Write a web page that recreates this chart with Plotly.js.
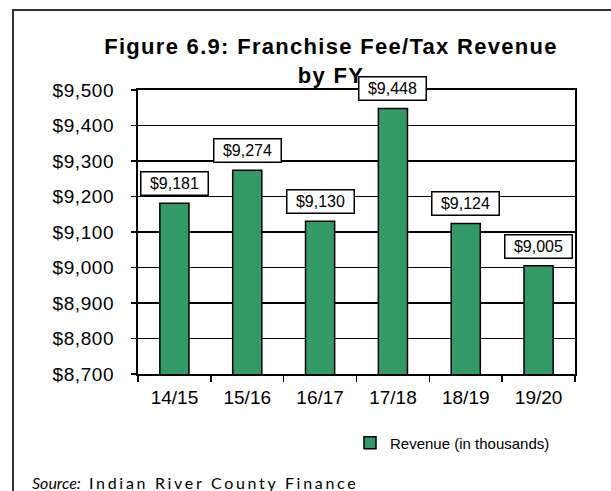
<!DOCTYPE html>
<html>
<head>
<meta charset="utf-8">
<script src="https://cdn.plot.ly/plotly-3.0.1.min.js"></script>
<style>
  html, body { margin: 0; padding: 0; background: #fff; }
  #wrap { position: relative; width: 611px; height: 491px; overflow: hidden; }
  #chart { position: absolute; left: 0; top: 0; width: 611px; height: 491px; }
  #frame { position: absolute; left: 12px; top: 9px; width: 620px; height: 500px;
           border-top: 2px solid #333; border-left: 2px solid #333; pointer-events: none; }
  .gtitle { letter-spacing: 1.3px; }
  .ytick text { letter-spacing: 0.6px; }
</style>
</head>
<body>
<div id="wrap">
  <div id="chart"></div>
  <div id="frame"></div>
</div>
<script>
// Data
const fiscalYears = ["14/15", "15/16", "16/17", "17/18", "18/19", "19/20"];
const revenue = [9181, 9274, 9130, 9448, 9124, 9005];
const revenueLabels = ["$9,181", "$9,274", "$9,130", "$9,448", "$9,124", "$9,005"];
const seriesName = "Revenue (in thousands)";
const chartTitle = "Figure 6.9: Franchise Fee/Tax Revenue<br>by FY";
const sourceNote = "<i>Source:</i>&nbsp;&nbsp;<span style=\"letter-spacing:2.7px\">Indian River County Finance</span>";

const FONT = "Liberation Sans, Arial, sans-serif";

const trace = {
  type: "bar",
  x: fiscalYears,
  y: revenue,
  name: seriesName,
  showlegend: true,
  marker: { color: "#339966", line: { color: "#000000", width: 1.5 } },
  hoverinfo: "x+y"
};

const labelAnnotations = fiscalYears.map((fy, i) => ({
  x: fy,
  y: revenue[i],
  xref: "x",
  yref: "y",
  text: revenueLabels[i],
  showarrow: false,
  yanchor: "bottom",
  yshift: 7,
  font: { family: FONT, size: 16, color: "#000" },
  bgcolor: "#ffffff",
  bordercolor: "#000000",
  borderwidth: 1.5,
  borderpad: 2,
  width: 62,
  height: 18
}));

const layout = {
  width: 611,
  height: 491,
  margin: { l: 138, r: 36, t: 90, b: 117 },
  paper_bgcolor: "#ffffff",
  plot_bgcolor: "#ffffff",
  font: { family: FONT, color: "#000" },
  title: {
    text: chartTitle,
    font: { family: FONT, size: 22, color: "#000", weight: "bold" },
    x: 331 / 611,
    xanchor: "center",
    xref: "container",
    yref: "container",
    y: (491 - 54) / 491,
    yanchor: "middle"
  },
  bargap: 0.6,
  xaxis: {
    type: "category",
    showline: true,
    linecolor: "#000",
    linewidth: 2,
    mirror: true,
    ticks: "outside",
    tickson: "boundaries",
    ticklen: 6,
    tickwidth: 1.5,
    tickcolor: "#000",
    ticklabelstandoff: 5,
    tickfont: { family: FONT, size: 19, color: "#000" },
    showgrid: false,
    zeroline: false
  },
  yaxis: {
    range: [8700, 9500],
    dtick: 100,
    tick0: 8700,
    tickprefix: "$",
    tickformat: ",d",
    showline: true,
    linecolor: "#000",
    linewidth: 2,
    mirror: true,
    ticks: "outside",
    ticklen: 5,
    tickwidth: 1.5,
    tickcolor: "#000",
    ticklabelstandoff: 13,
    tickfont: { family: FONT, size: 19, color: "#000" },
    showgrid: true,
    gridcolor: "#000",
    gridwidth: 1.5,
    zeroline: false
  },
  showlegend: true,
  legend: {
    orientation: "h",
    x: (350 - 138) / 437,
    xanchor: "left",
    y: (374 - 443) / 284,
    yanchor: "middle",
    font: { family: FONT, size: 15, color: "#000" },
    bgcolor: "rgba(0,0,0,0)"
  },
  annotations: labelAnnotations.concat([{
    text: sourceNote,
    xref: "paper",
    yref: "paper",
    x: (30 - 138) / 437,
    xanchor: "left",
    y: (374 - 482) / 284,
    yanchor: "middle",
    showarrow: false,
    font: { family: "Lato, Carlito, sans-serif", size: 16, color: "#000" }
  }])
};

Plotly.newPlot("chart", [trace], layout, { displayModeBar: false, staticPlot: true });
</script>
</body>
</html>
